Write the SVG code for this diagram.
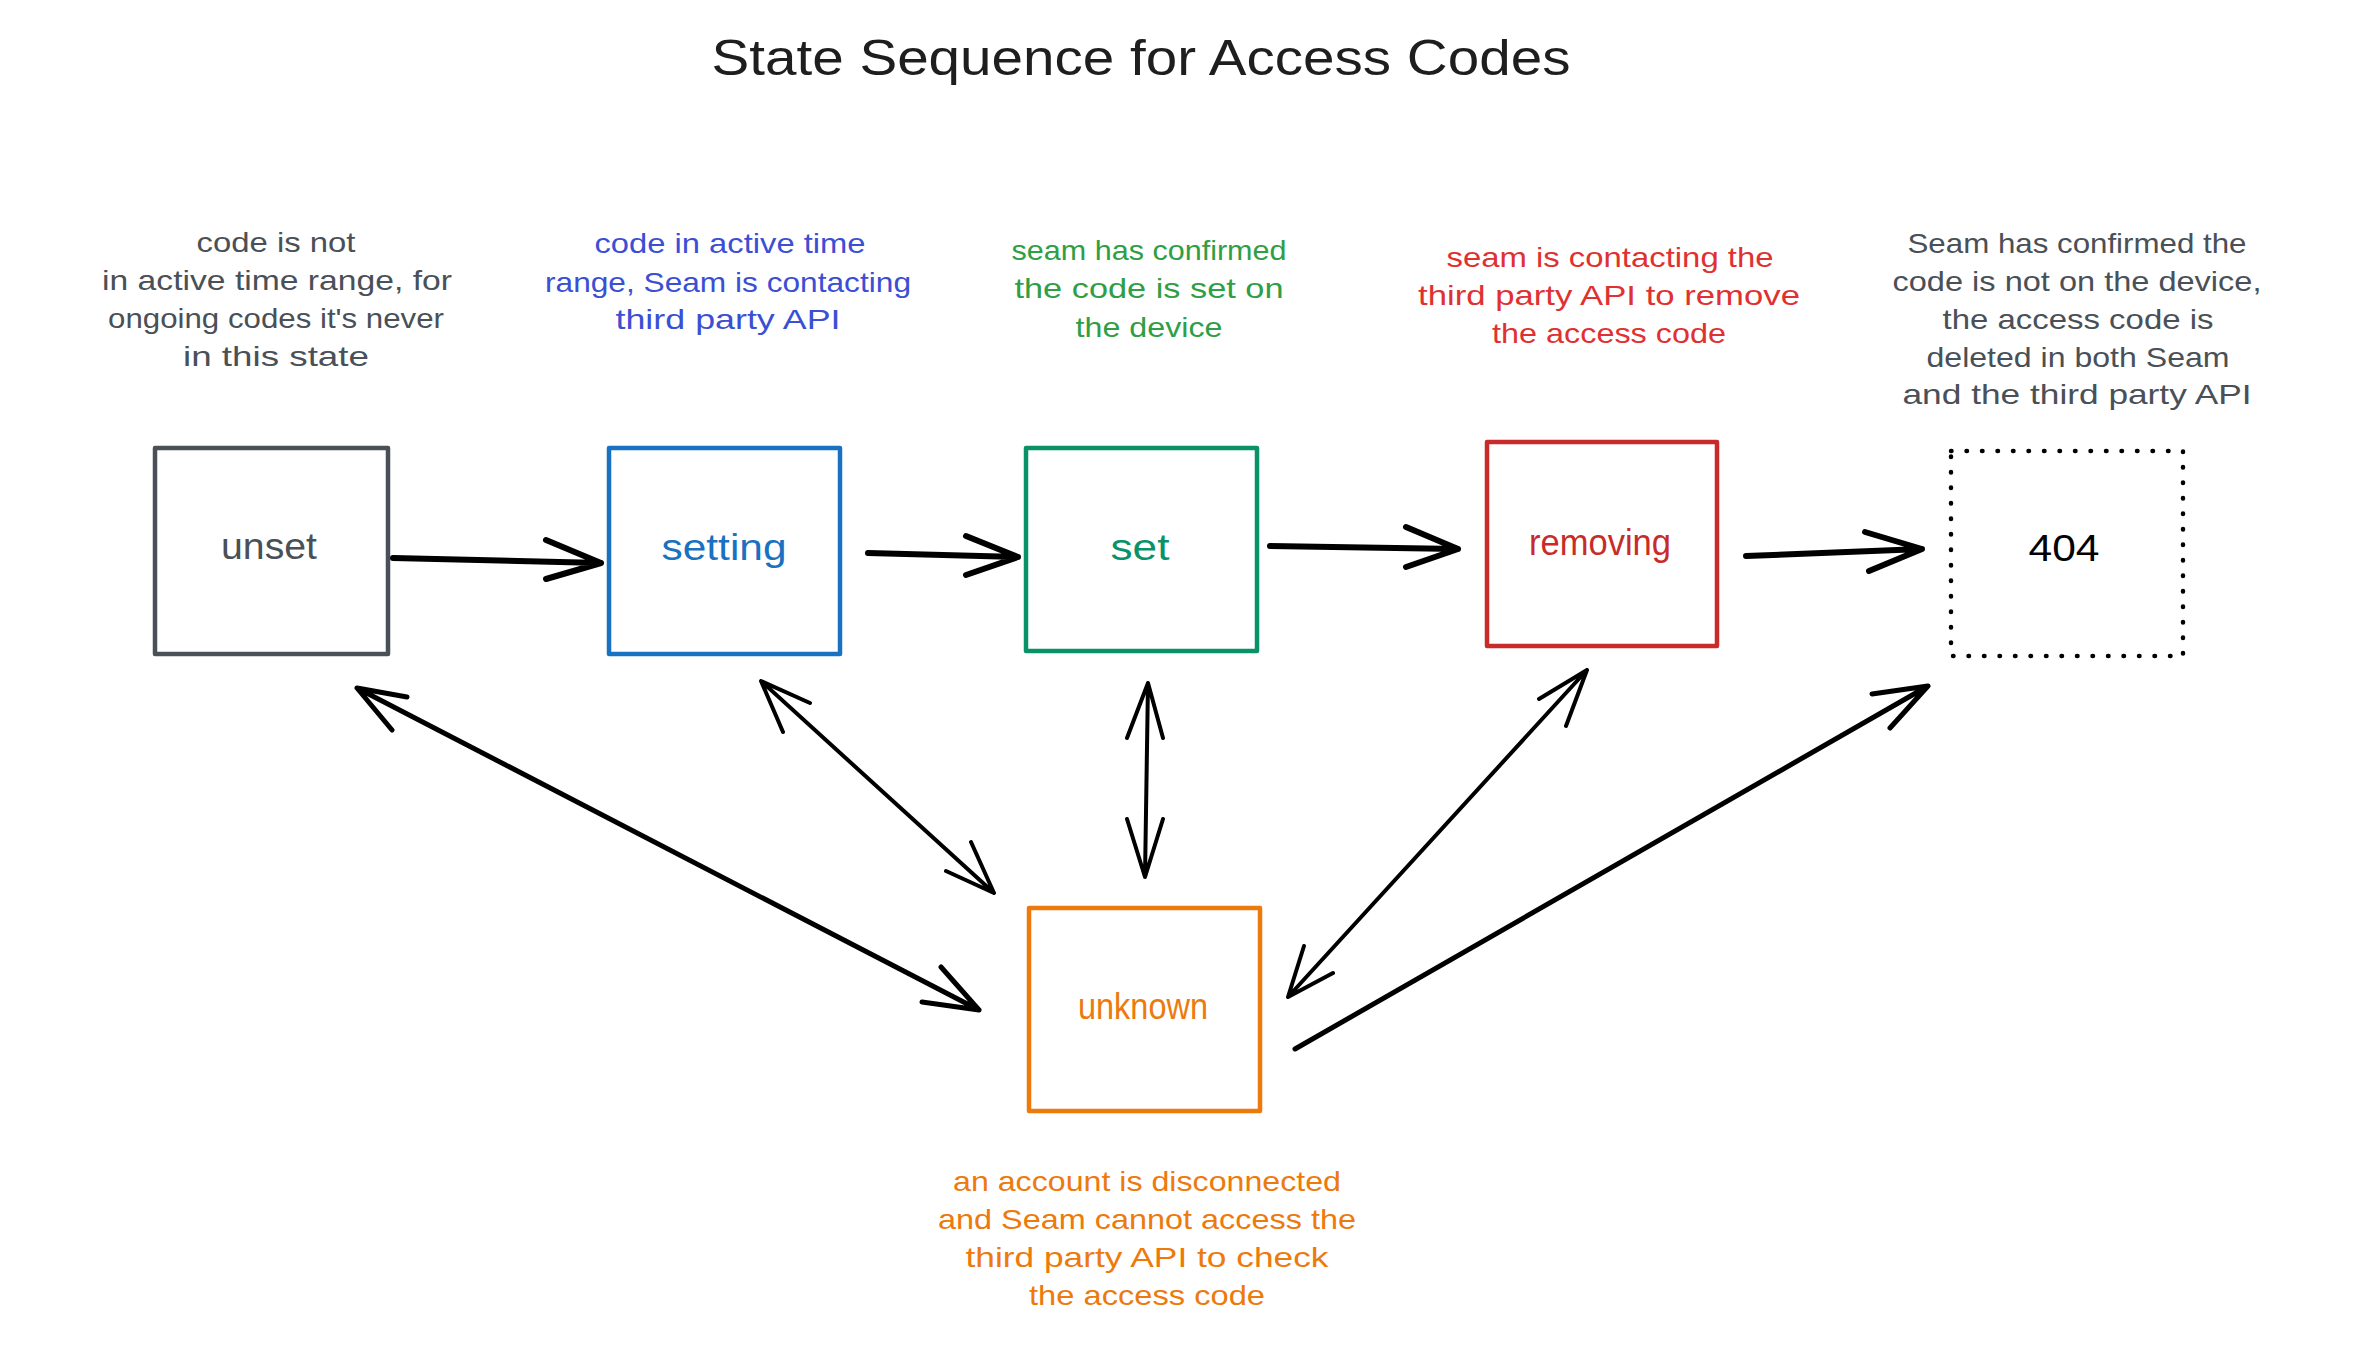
<svg xmlns="http://www.w3.org/2000/svg" width="2361" height="1349" viewBox="0 0 2361 1349">
<style>
text{font-family:"Liberation Sans",Arial,sans-serif;text-anchor:middle}
.title{font-size:50px;fill:#1e1e1e}
.ann{font-size:28px}
.lbl{font-size:36px}
.box{fill:#fff;stroke-width:4.5;stroke-linejoin:round;stroke-linecap:round}
.arr{fill:none;stroke:#000;stroke-linecap:round;stroke-linejoin:round}
.h{stroke-width:6}
.d{stroke-width:4}
.gray{fill:#495057}
.blue{fill:#3b4fd4}
.green{fill:#2f9e44}
.red{fill:#e03131}
.orange{fill:#ec7a0c}
</style>
<rect width="2361" height="1349" fill="#fff"/>
<text class="title" x="1141" y="75" textLength="859" lengthAdjust="spacingAndGlyphs">State Sequence for Access Codes</text>

<g id="note-unset" class="ann gray">
<text x="276" y="252" textLength="159" lengthAdjust="spacingAndGlyphs">code is not</text>
<text x="277" y="290" textLength="350" lengthAdjust="spacingAndGlyphs">in active time range, for</text>
<text x="276" y="328" textLength="336" lengthAdjust="spacingAndGlyphs">ongoing codes it's never</text>
<text x="276" y="366" textLength="186" lengthAdjust="spacingAndGlyphs">in this state</text>
</g>
<g id="note-setting" class="ann blue">
<text x="730" y="253" textLength="271" lengthAdjust="spacingAndGlyphs">code in active time</text>
<text x="728" y="292" textLength="366" lengthAdjust="spacingAndGlyphs">range, Seam is contacting</text>
<text x="728" y="329" textLength="225" lengthAdjust="spacingAndGlyphs">third party API</text>
</g>
<g id="note-set" class="ann green">
<text x="1149" y="260" textLength="275" lengthAdjust="spacingAndGlyphs">seam has confirmed</text>
<text x="1149" y="298" textLength="269" lengthAdjust="spacingAndGlyphs">the code is set on</text>
<text x="1149" y="337" textLength="147" lengthAdjust="spacingAndGlyphs">the device</text>
</g>
<g id="note-removing" class="ann red">
<text x="1610" y="267" textLength="327" lengthAdjust="spacingAndGlyphs">seam is contacting the</text>
<text x="1609" y="305" textLength="382" lengthAdjust="spacingAndGlyphs">third party API to remove</text>
<text x="1609" y="343" textLength="234" lengthAdjust="spacingAndGlyphs">the access code</text>
</g>
<g id="note-404" class="ann gray">
<text x="2077" y="253" textLength="339" lengthAdjust="spacingAndGlyphs">Seam has confirmed the</text>
<text x="2077" y="291" textLength="369" lengthAdjust="spacingAndGlyphs">code is not on the device,</text>
<text x="2078" y="329" textLength="271" lengthAdjust="spacingAndGlyphs">the access code is</text>
<text x="2078" y="367" textLength="303" lengthAdjust="spacingAndGlyphs">deleted in both Seam</text>
<text x="2077" y="404" textLength="349" lengthAdjust="spacingAndGlyphs">and the third party API</text>
</g>
<g id="note-unknown" class="ann orange">
<text x="1147" y="1191" textLength="388" lengthAdjust="spacingAndGlyphs">an account is disconnected</text>
<text x="1147" y="1229" textLength="418" lengthAdjust="spacingAndGlyphs">and Seam cannot access the</text>
<text x="1147" y="1267" textLength="363" lengthAdjust="spacingAndGlyphs">third party API to check</text>
<text x="1147" y="1305" textLength="236" lengthAdjust="spacingAndGlyphs">the access code</text>
</g>

<g id="node-unset">
<rect class="box" x="155" y="448" width="233" height="206" stroke="#495057"/>
<text class="lbl" x="269" y="559" fill="#495057" textLength="96" lengthAdjust="spacingAndGlyphs">unset</text>
</g>
<g id="node-setting">
<rect class="box" x="609" y="448" width="231" height="206" stroke="#1971c2"/>
<text class="lbl" x="724" y="560" fill="#1971c2" textLength="125" lengthAdjust="spacingAndGlyphs">setting</text>
</g>
<g id="node-set">
<rect class="box" x="1026" y="448" width="231" height="203" stroke="#099268"/>
<text class="lbl" x="1140" y="560" fill="#099268" textLength="59" lengthAdjust="spacingAndGlyphs">set</text>
</g>
<g id="node-removing">
<rect class="box" x="1487" y="442" width="230" height="204" stroke="#c92a2a"/>
<text class="lbl" x="1600" y="555" fill="#c92a2a" textLength="142" lengthAdjust="spacingAndGlyphs">removing</text>
</g>
<g id="node-404">
<rect x="1951" y="451" width="232" height="205" fill="none" stroke="#000" stroke-width="4.5" stroke-linecap="round" stroke-dasharray="0.5 15"/>
<text class="lbl" x="2064" y="561" fill="#000" textLength="71" lengthAdjust="spacingAndGlyphs">404</text>
</g>
<g id="node-unknown">
<rect class="box" x="1029" y="908" width="231" height="203" stroke="#ec7a0c"/>
<text class="lbl" x="1143" y="1019" fill="#ec7a0c" textLength="130" lengthAdjust="spacingAndGlyphs">unknown</text>
</g>

<g id="connectors" class="arr">
<path class="h" d="M393 558 L601 563 M546 540 L601 563 L546 579"/>
<path class="h" d="M868 553 L1018 557 M966 536 L1018 557 L966 575"/>
<path class="h" d="M1270 546 L1458 549 M1406 527 L1458 549 L1406 567"/>
<path class="h" d="M1746 556 L1922 549 M1865 532 L1922 549 L1869 571"/>
<path class="d" style="stroke-width:5" d="M357 688 L979 1010 M407 697 L357 688 L392 730 M922 1002 L979 1010 L941 967"/>
<path class="d" d="M761 681 L994 893 M810 703 L761 681 L783 732 M946 871 L994 893 L971 842"/>
<path class="d" d="M1148 683 L1145 877 M1127 738 L1148 683 L1163 738 M1127 819 L1145 877 L1163 819"/>
<path class="d" d="M1587 670 L1288 997 M1539 699 L1587 670 L1566 726 M1304 946 L1288 997 L1333 973"/>
<path class="d" style="stroke-width:5" d="M1295 1049 L1928 686 M1872 694 L1928 686 L1890 728"/>
</g>
</svg>
